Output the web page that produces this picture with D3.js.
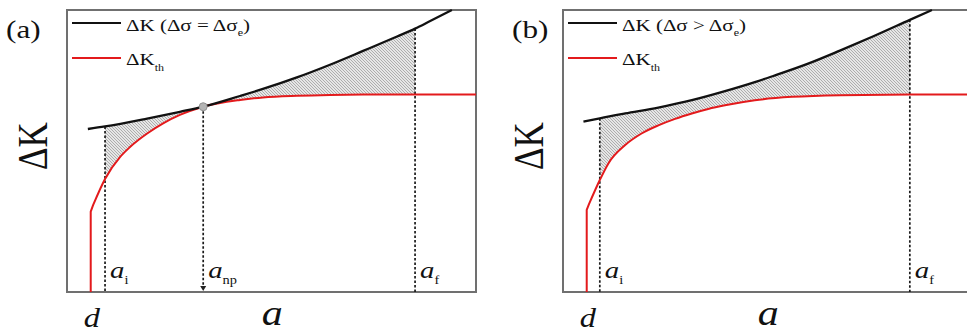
<!DOCTYPE html>
<html>
<head>
<meta charset="utf-8">
<script src="https://cdn.jsdelivr.net/npm/d3@7"></script>
<style>
  body { margin: 0; background: #fff; }
  svg { display: block; }
  svg text { font-family: "Liberation Serif", "DejaVu Serif", "Times New Roman", Times, serif; fill: #111; }
</style>
</head>
<body>
<div id="chart"></div>
<script>
// ---- data (a in % of frame width, dK in % of frame height) ----
// panel (a): dK at dSigma = dSigma_e
const aBlackA = [5.1, 9.3, 19.6, 27.6, 33.3, 42.3, 47.9, 56.2, 64.3, 72.4, 80.7, 85.1, 88.8, 94.1];
const kBlackA = [57.8, 58.7, 61.5, 63.9, 65.7, 69.5, 72.0, 76.1, 80.6, 85.5, 90.6, 93.4, 96.1, 100];
const aRedA = [5.8, 5.8, 6.4, 9.3, 13.0, 15.4, 19.6, 23.5, 27.6, 33.3, 42.3, 47.9, 56.2, 64.3, 72.4, 100];
const kRedA = [0, 28.5, 30.9, 40.1, 47.9, 51.4, 56.2, 59.8, 62.8, 65.7, 68.1, 69.0, 69.6, 69.9, 70.0, 70.0];
const markA = [9.3, 33.3, 85.1];
const markNamesA = ["i", "np", "f"];

// panel (b): dK at dSigma > dSigma_e
const aBlackB = [5.0, 9.0, 15.2, 23.3, 31.5, 39.6, 46.9, 51.4, 59.6, 67.7, 75.9, 84.8, 90.2];
const kBlackB = [60.4, 61.6, 63.3, 65.4, 68.0, 71.2, 74.4, 76.6, 80.8, 85.6, 90.7, 96.5, 100];
const aRedB = [5.8, 5.8, 6.4, 9.0, 11.1, 15.2, 19.2, 23.3, 27.4, 31.5, 35.5, 39.6, 46.9, 56.0, 67.7, 84.8, 100];
const kRedB = [0, 29.1, 31.3, 39.7, 45.6, 52.1, 56.2, 59.1, 61.4, 63.3, 64.9, 66.2, 68.0, 69.2, 69.8, 70.0, 70.0];
const markB = [9.0, 84.8];
const markNamesB = ["i", "f"];

const dPos = 5.8;
const panelTags = ["(a)", "(b)"];
const legendMain = ["ΔK (Δσ = Δσ", "ΔK (Δσ > Δσ"];

const W = 967, H = 333;
const SX = 1.2; // source picture is stretched horizontally
const RED = "#e31a1c";
const FONT = "'Liberation Serif', 'DejaVu Serif', 'Times New Roman', serif";

const svg = d3.select("#chart").append("svg")
  .attr("width", W).attr("height", H)
  .attr("font-family", FONT);

const defs = svg.append("defs");
const pat = defs.append("pattern")
  .attr("id", "hatch")
  .attr("patternUnits", "userSpaceOnUse")
  .attr("width", 3).attr("height", 3);
pat.append("rect").attr("width", 3).attr("height", 3).attr("fill", "#e6e6e6");
pat.append("path")
  .attr("d", "M-1,-1L4,4M-1,2L1,4M2,-1L4,1")
  .attr("stroke", "#999").attr("stroke-width", 0.75);

function txt(g, x, y, size, italic) {
  return g.append("text")
    .attr("transform", "translate(" + x + "," + y + ") scale(" + SX + ",1)")
    .style("font-family", FONT)
    .style("font-size", size + "px")
    .style("font-style", italic ? "italic" : "normal");
}

function panel(idx, left, aBlack, kBlack, aRed, kRed, marks, markNames, tagX) {
  const x = d3.scaleLinear().domain([0, 100]).range([left, left + 409]);
  const y = d3.scaleLinear().domain([0, 100]).range([292, 10]);
  const g = svg.append("g");
  const black = aBlack.map((a, i) => [a, kBlack[i]]);
  const red = aRed.map((a, i) => [a, kRed[i]]);
  const redCurve = red.slice(2);

  // hatched region between curves, a_i .. a_f
  const cx = "cx" + idx, cb = "cb" + idx;
  defs.append("clipPath").attr("id", cx).append("rect")
    .attr("x", x(marks[0])).attr("y", 0)
    .attr("width", x(marks[marks.length - 1]) - x(marks[0])).attr("height", H);
  defs.append("clipPath").attr("id", cb).append("path")
    .attr("d", d3.area().curve(d3.curveMonotoneX)
      .x(d => x(d[0])).y0(y(0)).y1(d => y(d[1]))(black));
  g.append("g").attr("clip-path", "url(#" + cx + ")")
    .append("g").attr("clip-path", "url(#" + cb + ")")
    .append("path")
    .attr("fill", "url(#hatch)")
    .attr("d", d3.area().curve(d3.curveMonotoneX)
      .x(d => x(d[0])).y0(y(100)).y1(d => y(d[1]))(redCurve));

  // frame
  g.append("rect")
    .attr("x", x(0)).attr("y", y(100))
    .attr("width", x(100) - x(0)).attr("height", y(0) - y(100))
    .attr("fill", "none").attr("stroke", "#707070").attr("stroke-width", 2);

  // dashed verticals
  marks.forEach((m, i) => {
    const top = kBlack[aBlack.indexOf(m)];
    const isArrow = markNames[i] === "np";
    g.append("line")
      .attr("x1", x(m)).attr("x2", x(m))
      .attr("y1", y(top)).attr("y2", isArrow ? y(0) - 5 : y(0))
      .attr("stroke", "#1a1a1a").attr("stroke-width", 1.7)
      .attr("stroke-dasharray", "2.5,2");
    if (isArrow) {
      g.append("path")
        .attr("d", "M" + (x(m) - 3) + "," + (y(0) - 6) + "L" + (x(m) + 3) + "," + (y(0) - 6) + "L" + x(m) + "," + (y(0) - 1) + "Z")
        .attr("fill", "#222");
    }
    const t = txt(g, x(m) + 5, 278, 24, true);
    t.append("tspan").text("a");
    t.append("tspan").attr("dy", 6).style("font-style", "normal").style("font-size", "12px").text(markNames[i]);
  });

  // curves
  const lin = d3.line().x(d => x(d[0])).y(d => y(d[1]));
  const mono = d3.line().curve(d3.curveMonotoneX).x(d => x(d[0])).y(d => y(d[1]));
  g.append("path")
    .attr("d", lin(red.slice(0, 3)) + mono(redCurve).replace(/^M/, "L"))
    .attr("fill", "none").attr("stroke", RED).attr("stroke-width", 2)
    .attr("stroke-linejoin", "round");
  g.append("path")
    .attr("d", mono(black))
    .attr("fill", "none").attr("stroke", "#111").attr("stroke-width", 2.3);

  if (idx === 0) {
    g.append("circle")
      .attr("cx", x(marks[1])).attr("cy", y(kBlack[aBlack.indexOf(marks[1])]))
      .attr("r", 4).attr("fill", "#b4b4b4").attr("stroke", "#909090");
  }

  // legend
  const lx = x(0) + 5;
  g.append("line").attr("x1", lx).attr("x2", lx + 49).attr("y1", 23).attr("y2", 23)
    .attr("stroke", "#111").attr("stroke-width", 2);
  g.append("line").attr("x1", lx).attr("x2", lx + 49).attr("y1", 58).attr("y2", 58)
    .attr("stroke", RED).attr("stroke-width", 2);
  const l1 = txt(g, lx + 54, 31, 17.5, false);
  l1.append("tspan").text(legendMain[idx]);
  l1.append("tspan").attr("dy", 5).style("font-size", "10px").text("e");
  l1.append("tspan").attr("dy", -5).text(")");
  const l2 = txt(g, lx + 54, 65, 17.5, false);
  l2.append("tspan").text("ΔK");
  l2.append("tspan").attr("dy", 6).style("font-size", "10px").text("th");

  // axis labels
  txt(g, tagX, 38, 26, false).text(panelTags[idx]);
  g.append("text")
    .attr("transform", "translate(" + (left - 20) + ",146) scale(" + SX + ",1) rotate(-90)")
    .attr("text-anchor", "middle")
    .style("font-family", FONT)
    .style("font-size", "35px")
    .text("ΔK");
  txt(g, x(dPos) - 7, 327, 27, true).text("d");
  txt(g, x(47.6), 325, 35, true).text("a");
}

panel(0, 67, aBlackA, kBlackA, aRedA, kRedA, markA, markNamesA, 6);
panel(1, 563, aBlackB, kBlackB, aRedB, kRedB, markB, markNamesB, 512);
</script>
</body>
</html>
